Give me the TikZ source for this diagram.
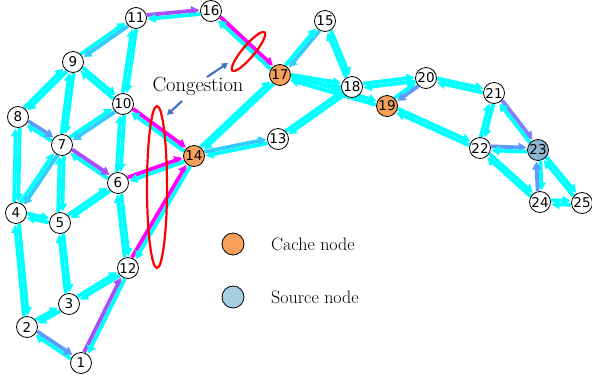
\documentclass[tikz,border=0pt]{standalone}
\usepackage{fontspec}
\newfontfamily\labelfont{DejaVu Sans}
\usetikzlibrary{calc,arrows.meta}

\definecolor{flowcyan}{HTML}{00FFFF}
\definecolor{flowmagenta}{HTML}{FF00FF}
\definecolor{flowpurple}{HTML}{AA4DFF}
\definecolor{flowblue}{HTML}{5E9BFF}
\definecolor{flowsky}{HTML}{33CCFF}
\definecolor{flowviolet}{HTML}{7F80FF}
\definecolor{cacheorange}{HTML}{F6A05A}
\definecolor{sourceblue}{HTML}{A6CEE3}
\definecolor{sourcedark}{HTML}{8FB6D0}
\definecolor{notearrow}{HTML}{4472C4}

\pgfdeclarelayer{edges}
\pgfsetlayers{edges,main}

\tikzset{
  router/.style={circle,draw=black,line width=0.8pt,fill=white,minimum size=21pt,
    inner sep=0pt,font=\labelfont\fontsize{13.5}{13.5}\selectfont},
  cache/.style={router,fill=cacheorange},
  source/.style={router,fill=sourcedark},
  flowline/.style={line width=3.8pt,-{Triangle[length=8pt,width=9pt]},
    shorten <=11pt,shorten >=11.5pt},
  redring/.style={draw=red,line width=2.2pt},
  notearrowstyle/.style={draw=notearrow,line width=2.2pt,
    -{Triangle[length=6pt,width=6.5pt]}},
  legendtext/.style={anchor=west,inner sep=0pt,font=\fontsize{18}{20}\selectfont},
}

% one directed flow, offset sideways so that both directions of a link show
\newcommand\flow[3]{\draw[flowline,#3]
  ($(#1.center)!2pt!90:(#2.center)$) -- ($(#2.center)!2pt!-90:(#1.center)$);}
% a link: colour of a->b, then colour of b->a
\newcommand\link[4]{\flow{#1}{#2}{#3}\flow{#2}{#1}{#4}}

\begin{document}
\begin{tikzpicture}[x=1pt,y=-1pt]
\useasboundingbox (0,0) rectangle (592,381);

% routers
\node[router] (n1)  at (81,363)  {1};
\node[router] (n2)  at (27,327)  {2};
\node[router] (n3)  at (69,304)  {3};
\node[router] (n4)  at (16,213)  {4};
\node[router] (n5)  at (60,223)  {5};
\node[router] (n6)  at (118,183) {6};
\node[router] (n7)  at (62,145)  {7};
\node[router] (n8)  at (18,117)  {8};
\node[router] (n9)  at (73,62)   {9};
\node[router] (n10) at (123,104) {10};
\node[router] (n11) at (136,18)  {11};
\node[router] (n12) at (128,268) {12};
\node[router] (n13) at (278,139) {13};
\node[cache]  (n14) at (194,156) {14};
\node[router] (n15) at (325,21)  {15};
\node[router] (n16) at (211,11)  {16};
\node[cache]  (n17) at (280,75)  {17};
\node[router] (n18) at (352,87)  {18};
\node[cache]  (n19) at (387,106) {19};
\node[router] (n20) at (426,78)  {20};
\node[router] (n21) at (494,93)  {21};
\node[router] (n22) at (480,148) {22};
\node[source] (n23) at (538,150) {23};
\node[router] (n24) at (540,202) {24};
\node[router] (n25) at (582,203) {25};

% traffic flows
\begin{pgfonlayer}{edges}
\link{n1}{n2}{flowcyan}{flowblue}
\link{n1}{n12}{flowpurple}{flowcyan}
\link{n2}{n3}{flowcyan}{flowcyan}
\link{n2}{n4}{flowcyan}{flowcyan}
\link{n3}{n5}{flowcyan}{flowcyan}
\link{n3}{n12}{flowcyan}{flowcyan}
\link{n4}{n5}{flowcyan}{flowcyan}
\link{n4}{n7}{flowcyan}{flowsky}
\link{n4}{n8}{flowcyan}{flowcyan}
\link{n5}{n6}{flowcyan}{flowcyan}
\link{n5}{n7}{flowcyan}{flowcyan}
\link{n6}{n7}{flowcyan}{flowpurple}
\link{n6}{n10}{flowcyan}{flowcyan}
\link{n6}{n12}{flowcyan}{flowcyan}
\link{n7}{n8}{flowcyan}{flowblue}
\link{n7}{n9}{flowcyan}{flowcyan}
\link{n7}{n10}{flowcyan}{flowsky}
\link{n8}{n9}{flowcyan}{flowcyan}
\link{n9}{n10}{flowcyan}{flowcyan}
\link{n9}{n11}{flowcyan}{flowsky}
\link{n10}{n11}{flowcyan}{flowcyan}
\link{n11}{n16}{flowpurple}{flowcyan}
\link{n13}{n14}{flowcyan}{flowsky}
\link{n13}{n18}{flowcyan}{flowcyan}
\link{n14}{n17}{flowcyan}{flowcyan}
\link{n15}{n17}{flowsky}{flowcyan}
\link{n15}{n18}{flowcyan}{flowcyan}
\link{n17}{n18}{flowcyan}{flowcyan}
\link{n17}{n19}{flowcyan}{flowcyan}
\link{n18}{n20}{flowcyan}{flowcyan}
\link{n19}{n20}{flowcyan}{flowblue}
\link{n19}{n22}{flowcyan}{flowcyan}
\link{n20}{n21}{flowcyan}{flowcyan}
\link{n21}{n22}{flowcyan}{flowcyan}
\link{n21}{n23}{flowviolet}{flowcyan}
\link{n22}{n23}{flowblue}{flowcyan}
\link{n22}{n24}{flowcyan}{flowcyan}
\link{n23}{n24}{flowcyan}{flowblue}
\link{n23}{n25}{flowcyan}{flowcyan}
\link{n24}{n25}{flowcyan}{flowcyan}
% congested links into the cache nodes
\link{n6}{n14}{flowmagenta}{flowcyan}
\link{n10}{n14}{flowmagenta}{flowcyan}
\link{n12}{n14}{flowmagenta}{flowcyan}
\link{n16}{n17}{flowmagenta}{flowcyan}
\end{pgfonlayer}

% congestion marks
\draw[redring] (157,187) ellipse [x radius=10pt, y radius=81pt];
\draw[redring] (248.5,51.5) ellipse [x radius=25pt, y radius=6pt, rotate=50];
\node[font=\fontsize{20.5}{21}\selectfont,inner sep=0pt] (cong) at (198,86) {Congestion};
\coordinate (uptail) at (207,77);
\coordinate (uphead) at (228,63);
\coordinate (dntail) at (182,101);
\coordinate (dnhead) at (167,115);
\draw[notearrowstyle] (uptail) -- (uphead);
\draw[notearrowstyle] (dntail) -- (dnhead);

% legend
\node[cache,minimum size=22pt] (lgcache) at (233,244) {};
\node[router,fill=sourceblue,minimum size=22pt] (lgsource) at (233,297) {};
\node[legendtext] (lgcachetext) at (271,244) {Cache node};
\node[legendtext] (lgsourcetext) at (271,297) {Source node};
\end{tikzpicture}
\end{document}
